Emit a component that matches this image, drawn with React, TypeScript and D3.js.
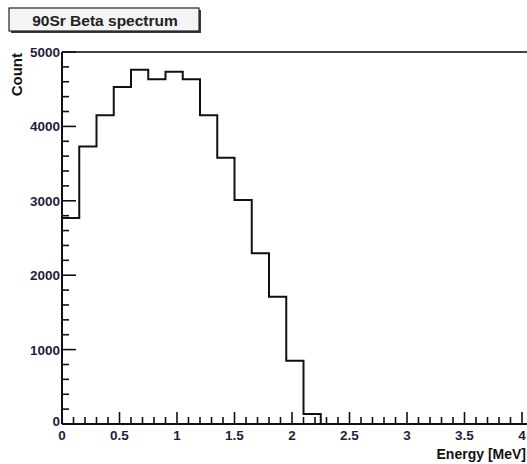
import React from "react";
import * as d3 from "d3";

const binWidth = 0.15;
const binStarts = [0, 0.15, 0.3, 0.45, 0.6, 0.75, 0.9, 1.05, 1.2, 1.35, 1.5, 1.65, 1.8, 1.95, 2.1, 2.25, 2.4, 2.55, 2.7, 2.85, 3.0, 3.15, 3.3, 3.45, 3.6, 3.75, 3.9];
const counts = [2770, 3730, 4150, 4530, 4760, 4635, 4735, 4635, 4150, 3580, 3010, 2295, 1710, 850, 135, 0, 0, 0, 0, 0, 0, 0, 0, 0, 0, 0, 0];
const xTickLabels = [0, 0.5, 1, 1.5, 2, 2.5, 3, 3.5, 4];
const yTickLabels = [0, 1000, 2000, 3000, 4000, 5000];
const title = "90Sr Beta spectrum";
const xTitle = "Energy [MeV]";
const yTitle = "Count";

export default function App() {
  const W = 527, H = 464;
  const left = 62, bottom = 424, top = 52;
  const x = d3.scaleLinear().domain([0, 4]).range([left, 522]);
  const y = d3.scaleLinear().domain([0, 5000]).range([bottom, top]);
  const font = "'Liberation Sans', Arial, sans-serif";
  const labelColor = "#1e1e3c";

  const pts: [number, number][] = [[x(0), y(0)]];
  binStarts.forEach((s, i) => {
    pts.push([x(s), y(counts[i])]);
    pts.push([x(s + binWidth), y(counts[i])]);
  });
  pts.push([x(binStarts[binStarts.length - 1] + binWidth), y(0)]);
  const path = d3.line()(pts) as string;

  const xMinor = d3.range(0, 41).map((i) => i / 10);
  const yMinor = d3.range(0, 26).map((i) => i * 200);

  return (
    <svg width={W} height={H} style={{ position: "absolute", left: 0, top: 0, background: "#fff" }}>
      <rect x={0} y={0} width={W} height={H} fill="#fff" />
      {/* title box */}
      <rect x={11} y={10} width={190} height={23} fill="#3a3a3a" />
      <rect x={9} y={8} width={190} height={23} fill="#f4f4f4" stroke="#222" strokeWidth={1.2} />
      <text x={105} y={25.5} textAnchor="middle" fontFamily={font} fontWeight="bold" fontSize={15.5} fill="#222">{title}</text>
      {/* frame */}
      <line x1={left} x2={W + 5} y1={top} y2={top} stroke="#444" strokeWidth={2} />
      <line x1={left} x2={left} y1={top} y2={bottom} stroke="#111" strokeWidth={2} />
      <line x1={left} x2={W + 5} y1={bottom} y2={bottom} stroke="#111" strokeWidth={2} />
      {/* y ticks */}
      {yMinor.map((v) => {
        const major = v % 1000 === 0;
        return <line key={"ym" + v} x1={left} x2={left + (major ? 14 : 7)} y1={y(v)} y2={y(v)} stroke="#111" strokeWidth={1.6} />;
      })}
      {xMinor.map((v) => {
        const major = Math.abs(v * 2 - Math.round(v * 2)) < 1e-6;
        return <line key={"xm" + v} x1={x(v)} x2={x(v)} y1={bottom} y2={bottom - (major ? 12 : 7)} stroke="#111" strokeWidth={1.6} />;
      })}
      {yTickLabels.map((v) => (
        <text key={"yl" + v} x={left - 2} y={y(v) + (v === 0 ? 2 : 5)} textAnchor="end" fontFamily={font} fontWeight="bold" fontSize={13.5} fill={labelColor}>{v}</text>
      ))}
      {xTickLabels.map((v) => (
        <text key={"xl" + v} x={x(v)} y={bottom + 16} textAnchor="middle" fontFamily={font} fontWeight="bold" fontSize={13.5} fill={labelColor}>{v}</text>
      ))}
      {/* histogram */}
      <path d={path} fill="none" stroke="#111" strokeWidth={2} />
      {/* axis titles */}
      <text x={526} y={459} textAnchor="end" fontFamily={font} fontWeight="bold" fontSize={14} fill="#111">{xTitle}</text>
      <text transform={`translate(22,${top + 1}) rotate(-90)`} textAnchor="end" fontFamily={font} fontWeight="bold" fontSize={15} fill="#111">{yTitle}</text>
    </svg>
  );
}
